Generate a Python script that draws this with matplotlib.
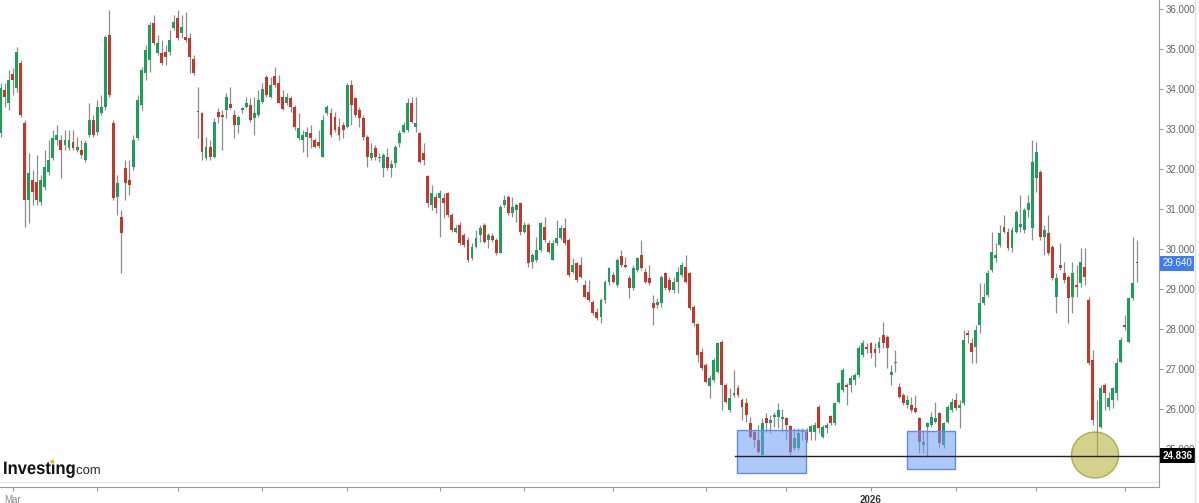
import numpy as np
import matplotlib.pyplot as plt
import matplotlib.transforms as mtransforms
from matplotlib.patches import Rectangle, Ellipse, PathPatch, Circle
from matplotlib.lines import Line2D
from matplotlib.textpath import TextPath
from matplotlib.font_manager import FontProperties

plt.rcParams['font.family'] = ['Liberation Sans', 'DejaVu Sans']

# daily candles, Mar 2025 .. Apr 2026
opens = [
    32.90, 33.98, 33.65, 34.38, 34.03, 34.65, 33.15, 31.23, 31.73, 31.68,
    31.18, 31.55, 31.93, 32.28, 32.73, 32.73, 32.60, 32.53, 32.68, 32.48,
    32.48, 32.23, 32.85, 33.23, 32.93, 33.40, 33.55, 35.35, 33.15, 31.30,
    30.80, 32.03, 31.73, 32.05, 32.78, 33.60, 34.40, 34.73, 35.65, 34.90,
    34.90, 34.93, 34.93, 35.53, 35.78, 35.40, 35.30, 35.28, 34.75, 33.45,
    33.40, 32.28, 32.55, 32.30, 33.43, 33.35, 33.48, 33.63, 33.35, 33.10,
    33.48, 33.55, 33.60, 33.28, 33.35, 33.68, 34.30, 33.80, 34.33, 34.15,
    33.80, 33.65, 33.78, 33.55, 32.78, 32.73, 32.80, 32.90, 32.73, 32.68,
    32.30, 33.40, 33.40, 33.30, 33.05, 33.10, 33.05, 34.10, 33.78, 33.48,
    33.28, 32.80, 32.28, 32.53, 32.28, 32.03, 32.30, 32.03, 32.15, 32.65,
    32.93, 32.98, 33.65, 33.05, 32.90, 32.40, 31.83, 31.10, 31.30, 31.28,
    31.28, 31.40, 30.85, 30.43, 30.60, 30.35, 30.23, 29.78, 30.05, 30.35,
    30.60, 30.23, 30.33, 30.23, 29.90, 31.10, 31.30, 30.90, 30.98, 31.15,
    30.43, 30.60, 29.68, 29.73, 29.98, 30.55, 30.15, 29.73, 30.15, 30.28,
    30.53, 30.23, 29.43, 29.65, 29.60, 29.10, 28.93, 28.68, 28.43, 28.30,
    28.73, 29.18, 29.35, 29.10, 29.83, 29.60, 29.28, 29.03, 29.48, 29.85,
    29.43, 29.28, 28.65, 28.60, 28.65, 29.40, 29.23, 28.98, 29.18, 29.35,
    29.55, 29.40, 28.55, 28.13, 27.43, 27.10, 26.58, 26.73, 26.93, 27.68,
    26.60, 25.98, 26.35, 26.53, 26.23, 26.15, 25.65, 25.43, 25.23, 24.85,
    25.78, 25.65, 25.80, 25.80, 25.75, 25.78, 25.58, 25.03, 25.03, 25.43,
    25.43, 25.43, 25.43, 26.05, 25.30, 25.53, 25.83, 25.65, 26.18, 26.48,
    26.60, 26.60, 26.73, 26.85, 27.35, 27.55, 27.65, 27.50, 27.53, 27.85,
    27.80, 26.85, 27.15, 26.55, 26.35, 26.10, 26.10, 26.03, 25.78, 25.10,
    25.55, 25.60, 25.68, 25.90, 25.10, 25.68, 25.98, 26.23, 26.03, 26.15,
    27.90, 27.65, 27.55, 28.10, 28.65, 28.85, 29.48, 29.78, 30.10, 30.55,
    30.43, 30.03, 30.43, 30.55, 30.48, 30.98, 30.53, 31.78, 31.93, 30.30,
    30.40, 30.05, 28.80, 29.60, 29.40, 29.30, 28.80, 29.10, 29.15, 29.55,
    28.73, 27.23, 25.40, 25.55, 26.60, 26.05, 26.23, 26.40, 27.18, 28.10,
    27.68, 28.78, 29.68]
highs = [
    34.15, 34.15, 34.48, 34.53, 35.05, 34.73, 33.23, 32.40, 31.98, 32.35,
    31.85, 32.48, 32.73, 32.98, 33.10, 32.85, 32.98, 32.98, 32.98, 32.80,
    32.73, 32.73, 33.65, 33.35, 33.73, 33.85, 35.35, 35.98, 33.23, 31.85,
    30.98, 32.23, 32.23, 32.85, 33.85, 34.55, 35.10, 35.68, 35.85, 35.35,
    35.23, 35.10, 35.48, 35.85, 35.98, 35.85, 35.93, 35.40, 34.85, 34.05,
    33.43, 32.80, 32.73, 33.28, 33.53, 33.48, 33.90, 34.05, 33.48, 33.35,
    33.55, 33.80, 33.78, 33.80, 33.98, 34.15, 34.35, 34.30, 34.55, 34.35,
    33.98, 33.90, 33.83, 33.60, 33.40, 32.98, 33.05, 33.10, 32.78, 32.98,
    33.35, 33.60, 33.53, 33.43, 33.28, 33.18, 34.15, 34.23, 33.80, 33.55,
    33.35, 32.85, 32.65, 32.60, 32.40, 32.40, 32.53, 32.23, 32.60, 32.98,
    33.18, 33.78, 33.80, 33.80, 32.93, 32.65, 31.85, 31.60, 31.40, 31.48,
    31.40, 31.43, 30.90, 30.60, 30.68, 30.40, 30.30, 30.15, 30.48, 30.60,
    30.65, 30.40, 30.40, 30.28, 31.10, 31.35, 31.35, 31.30, 31.15, 31.18,
    30.68, 30.65, 29.90, 30.30, 30.68, 30.80, 30.23, 30.23, 30.73, 30.60,
    30.78, 30.28, 29.78, 29.68, 29.80, 29.23, 29.23, 28.73, 28.53, 28.78,
    29.23, 29.55, 29.43, 29.78, 29.98, 29.80, 29.35, 29.60, 29.80, 30.23,
    29.53, 29.60, 28.85, 28.78, 29.35, 29.43, 29.30, 29.30, 29.55, 29.68,
    29.85, 29.43, 28.60, 28.15, 27.53, 27.15, 26.85, 27.28, 27.68, 27.73,
    26.65, 26.53, 26.98, 26.60, 26.28, 26.28, 25.80, 25.48, 25.60, 25.78,
    25.90, 25.85, 25.93, 26.15, 26.00, 25.80, 25.60, 25.53, 25.53, 25.53,
    25.53, 25.60, 25.68, 26.10, 25.60, 25.65, 25.85, 26.18, 26.68, 27.03,
    26.65, 26.85, 26.90, 27.60, 27.73, 27.65, 27.68, 27.65, 27.80, 28.18,
    27.85, 27.10, 27.48, 26.65, 26.40, 26.35, 26.30, 26.35, 25.80, 25.48,
    25.68, 25.93, 26.18, 25.93, 25.68, 26.10, 26.28, 26.40, 26.23, 27.98,
    27.98, 27.78, 28.10, 29.15, 29.15, 29.48, 30.43, 30.15, 30.60, 30.85,
    30.53, 30.55, 30.98, 31.35, 31.03, 31.35, 32.73, 32.68, 31.98, 30.60,
    30.85, 30.10, 29.40, 30.15, 29.68, 29.35, 29.68, 29.60, 30.03, 30.03,
    28.80, 27.48, 26.23, 26.60, 26.65, 26.43, 26.55, 27.28, 27.80, 28.35,
    28.80, 30.30, 30.23]
lows = [
    32.80, 33.55, 33.48, 33.85, 33.93, 33.30, 30.55, 30.65, 31.10, 31.10,
    31.10, 31.48, 31.85, 32.23, 32.60, 31.78, 32.48, 32.48, 32.48, 32.43,
    32.28, 32.18, 32.80, 32.80, 32.85, 33.35, 33.48, 33.80, 31.23, 30.85,
    29.40, 31.23, 31.35, 31.98, 32.73, 33.48, 34.23, 34.43, 35.10, 34.85,
    34.60, 34.60, 34.85, 35.48, 35.23, 35.28, 35.18, 34.40, 34.35, 32.78,
    32.23, 32.23, 32.23, 32.28, 33.15, 32.48, 33.28, 33.50, 32.78, 32.90,
    33.40, 33.53, 33.18, 32.85, 33.30, 33.65, 33.80, 33.78, 34.05, 33.65,
    33.48, 33.60, 33.43, 32.98, 32.73, 32.43, 32.30, 32.53, 32.53, 32.53,
    32.30, 33.35, 32.80, 32.93, 32.73, 32.78, 33.03, 33.10, 33.30, 33.05,
    32.73, 32.05, 32.23, 32.23, 32.18, 31.80, 31.98, 31.80, 32.05, 32.55,
    32.90, 32.93, 33.15, 32.93, 32.15, 32.10, 31.05, 30.98, 30.90, 30.30,
    30.78, 30.80, 30.43, 30.40, 30.10, 30.05, 29.68, 29.73, 30.03, 30.18,
    30.15, 30.03, 30.18, 29.85, 29.90, 31.05, 30.85, 30.80, 30.68, 30.35,
    30.40, 29.55, 29.53, 29.68, 29.93, 30.18, 29.90, 29.73, 30.10, 30.23,
    30.10, 29.30, 29.40, 29.18, 29.28, 28.78, 28.68, 28.35, 28.23, 28.15,
    28.65, 29.10, 29.15, 29.05, 29.55, 29.53, 28.78, 28.98, 29.43, 29.48,
    29.15, 29.10, 28.10, 28.53, 28.55, 28.98, 28.93, 28.90, 28.90, 29.30,
    29.15, 28.48, 28.08, 27.18, 26.98, 26.65, 26.28, 26.68, 26.90, 25.98,
    26.15, 25.93, 26.30, 26.30, 25.73, 25.68, 25.28, 25.05, 24.90, 24.84,
    25.43, 25.40, 25.55, 25.53, 25.43, 25.23, 24.85, 24.98, 24.98, 25.23,
    25.18, 25.23, 25.23, 25.40, 25.28, 25.40, 25.60, 25.60, 26.15, 26.43,
    26.10, 26.43, 26.60, 26.80, 27.30, 27.40, 27.28, 27.05, 27.40, 27.53,
    27.03, 26.60, 26.93, 26.28, 26.10, 26.03, 25.93, 25.90, 24.90, 24.90,
    24.80, 25.55, 25.65, 25.05, 25.03, 25.65, 25.93, 25.98, 25.53, 26.10,
    27.65, 27.15, 27.15, 27.90, 28.60, 28.80, 29.43, 29.68, 30.05, 30.40,
    29.98, 29.93, 30.40, 30.43, 30.40, 30.80, 30.23, 31.43, 30.23, 29.85,
    29.85, 29.23, 28.40, 29.48, 29.15, 28.15, 28.40, 28.80, 29.05, 29.10,
    27.10, 25.60, 24.80, 25.53, 25.98, 25.98, 26.03, 26.23, 27.15, 27.98,
    27.65, 28.73, 29.18]
closes = [
    34.03, 33.80, 34.23, 34.23, 34.93, 33.35, 31.23, 31.90, 31.43, 31.23,
    31.73, 32.05, 32.23, 32.78, 32.85, 32.48, 32.73, 32.73, 32.53, 32.55,
    32.35, 32.65, 33.23, 32.85, 33.55, 33.55, 35.30, 33.85, 31.28, 31.65,
    30.40, 31.65, 31.60, 32.73, 33.73, 34.48, 34.98, 35.60, 35.15, 35.15,
    34.65, 34.80, 35.23, 35.68, 35.28, 35.55, 35.23, 34.80, 34.40, 33.43,
    32.43, 32.55, 32.30, 33.18, 33.30, 33.30, 33.80, 33.53, 33.10, 33.30,
    33.53, 33.65, 33.23, 33.40, 33.73, 34.00, 33.85, 34.10, 34.10, 33.65,
    33.50, 33.80, 33.55, 33.05, 33.03, 32.85, 32.93, 32.78, 32.55, 32.58,
    33.23, 33.55, 32.85, 32.98, 32.85, 32.98, 34.10, 33.60, 33.35, 33.28,
    32.80, 32.30, 32.40, 32.30, 32.30, 32.35, 32.03, 32.13, 32.55, 32.90,
    33.10, 33.65, 33.18, 33.15, 32.18, 32.23, 31.15, 31.40, 31.03, 31.40,
    31.15, 30.85, 30.48, 30.53, 30.15, 30.10, 29.73, 30.05, 30.28, 30.53,
    30.18, 30.35, 30.23, 29.90, 31.05, 31.23, 30.90, 31.05, 31.10, 30.43,
    30.60, 29.65, 29.85, 29.98, 30.65, 30.23, 29.93, 30.15, 30.28, 30.53,
    30.15, 29.35, 29.60, 29.23, 29.30, 28.80, 28.73, 28.40, 28.28, 28.73,
    29.18, 29.53, 29.18, 29.73, 29.60, 29.55, 29.03, 29.53, 29.78, 29.53,
    29.18, 29.15, 28.53, 28.68, 29.30, 29.03, 28.98, 29.18, 29.43, 29.60,
    29.18, 28.53, 28.15, 27.35, 27.03, 26.68, 26.78, 27.23, 27.65, 26.60,
    26.18, 26.28, 26.40, 26.35, 26.05, 25.85, 25.30, 25.23, 24.93, 25.65,
    25.65, 25.73, 25.85, 25.98, 25.80, 25.60, 24.93, 25.28, 25.40, 25.48,
    25.23, 25.58, 25.60, 25.53, 25.55, 25.60, 25.65, 26.15, 26.65, 26.98,
    26.55, 26.78, 26.85, 27.53, 27.65, 27.50, 27.40, 27.40, 27.68, 27.65,
    27.53, 26.93, 27.18, 26.30, 26.15, 26.23, 25.98, 25.93, 25.18, 25.18,
    25.65, 25.80, 25.78, 25.15, 25.65, 26.05, 26.18, 26.03, 26.10, 27.73,
    27.85, 27.43, 27.98, 28.65, 28.80, 29.40, 29.93, 29.85, 30.40, 30.43,
    30.03, 30.48, 30.93, 30.63, 30.98, 31.15, 32.18, 32.43, 30.30, 30.48,
    29.90, 29.28, 29.28, 29.53, 29.23, 28.78, 29.40, 29.05, 29.68, 29.30,
    27.15, 25.73, 25.43, 26.53, 26.40, 26.28, 26.53, 27.15, 27.73, 28.05,
    28.78, 29.15, 29.64]

# month starts (candle index) and their labels
month_idx = [3, 24, 44, 65, 86, 109, 130, 152, 175, 195, 216, 237, 257, 279]
month_lbl = ['Mar', '', '', '', '', '', '', '', '', '', '2026', '', '', '']
yticks = [25, 26, 27, 28, 29, 30, 31, 32, 33, 34, 35, 36]
support = 24.836
last_price = 29.640

GREEN = '#1f9d5c'
RED = '#c0392f'
GREY = '#666666'

W, H = 1199, 503
fig = plt.figure(figsize=(W / 100, H / 100), dpi=100)
ax = fig.add_axes([0, 16 / H, 1159 / W, 487 / H])

o = np.array(opens)
h = np.array(highs)
l = np.array(lows)
c = np.array(closes)
x = np.arange(len(o))
up = c >= o
cols = np.where(up, GREEN, RED)

lo_w = np.minimum(l, np.minimum(o, c))
hi_w = np.maximum(h, np.maximum(o, c))
ax.vlines(x, lo_w, hi_w, color='#8c8c8c', lw=0.9, zorder=2)
body = np.maximum(np.abs(c - o), 0.035)
ax.bar(x, body, bottom=np.minimum(o, c) - (body - np.abs(c - o)) / 2,
       width=0.72, color=cols, lw=0, zorder=3)

x_right = 1158.5 / 4.03
ax.set_xlim(-0.5 / 4.03, x_right)
ax.set_ylim(24.05, 36.225)

# highlighted zones
ax.add_patch(Rectangle((182.8, 24.40), 17.1, 1.075, fc=(0.42, 0.61, 0.96, 0.55),
                       ec='#5d8fe8', lw=1, zorder=4))
ax.add_patch(Rectangle((224.9, 24.50), 11.9, 0.95, fc=(0.42, 0.61, 0.96, 0.55),
                       ec='#5d8fe8', lw=1, zorder=4))
ax.add_patch(Ellipse((271.6, 24.85), 11.7, 1.15, fc=(0.72, 0.70, 0.25, 0.6),
                     ec=(0.64, 0.62, 0.2, 0.8), lw=1, zorder=4))
ax.plot([182.3, x_right + 1], [support, support], color='#222222', lw=1, zorder=5,
        clip_on=False)
ax.axhline(24.175, color='#e8e8e8', lw=1, zorder=1)

# axes styling
for s in ['top', 'left']:
    ax.spines[s].set_visible(False)
ax.spines['right'].set_color('#9a9a9a')
ax.spines['bottom'].set_color('#9a9a9a')
ax.yaxis.tick_right()
ax.set_yticks(yticks)
ax.set_yticklabels(['%d.000' % v for v in yticks])
ax.tick_params(axis='y', length=3, width=0.8, color='#9a9a9a', pad=1.5,
               labelsize=7, labelcolor=GREY)
ax.set_xticks(month_idx)
ax.set_xticklabels(month_lbl)
ax.tick_params(axis='x', length=3, width=0.8, color='#9a9a9a', pad=3,
               labelsize=7, labelcolor='#888888')
for t in ax.get_xticklabels():
    if t.get_text() == '2026':
        t.set_color('#333333')
        t.set_fontweight('bold')

tr = mtransforms.blended_transform_factory(ax.transAxes, ax.transData)
ax.text(1.0028, last_price, '%.3f' % last_price, transform=tr, ha='left',
        va='center', fontsize=7, color='white', zorder=10, clip_on=False,
        bbox=dict(boxstyle='square,pad=0.25', fc='#3d7cf6', ec='none'))
ax.text(1.0028, support, '%.3f' % support, transform=tr, ha='left',
        va='center', fontsize=7, color='white', fontweight='bold', zorder=10,
        clip_on=False, bbox=dict(boxstyle='square,pad=0.25', fc='black', ec='none'))

fig.add_artist(Line2D([1195 / W] * 2, [0, 1], color='#e2e2e2', lw=1))

# Investing.com mark, drawn in output pixels
base_x, base_y = 3, H - 474
fp_b = FontProperties(family='Liberation Sans', weight='bold')
fp_n = FontProperties(family='Liberation Sans')
sq = mtransforms.Affine2D().scale(0.92, 1).translate(base_x, base_y)
word = TextPath((0, 0), 'Investıng', size=18, prop=fp_b)
fig.add_artist(PathPatch(word, transform=sq + mtransforms.IdentityTransform(),
                         fc='#111111', ec='none'))
pre = TextPath((0, 0), 'Invest', size=18, prop=fp_b).get_extents()
pre_i = TextPath((0, 0), 'Investı', size=18, prop=fp_b).get_extents()
dot_x = base_x + 0.92 * (pre.x1 + pre_i.x1) / 2
fig.add_artist(Circle((dot_x, base_y + 12.2), 1.9, transform=mtransforms.IdentityTransform(),
                      fc='#f5b316', ec='none'))
wext = word.get_extents()
com = TextPath((0, 0), 'com', size=13, prop=fp_n)
fig.add_artist(PathPatch(com, transform=mtransforms.Affine2D().translate(
    base_x + 0.92 * wext.x1 + 1.5, base_y) + mtransforms.IdentityTransform(),
    fc='#2a2a2a', ec='none'))

fig.savefig('out.png', dpi=100)
